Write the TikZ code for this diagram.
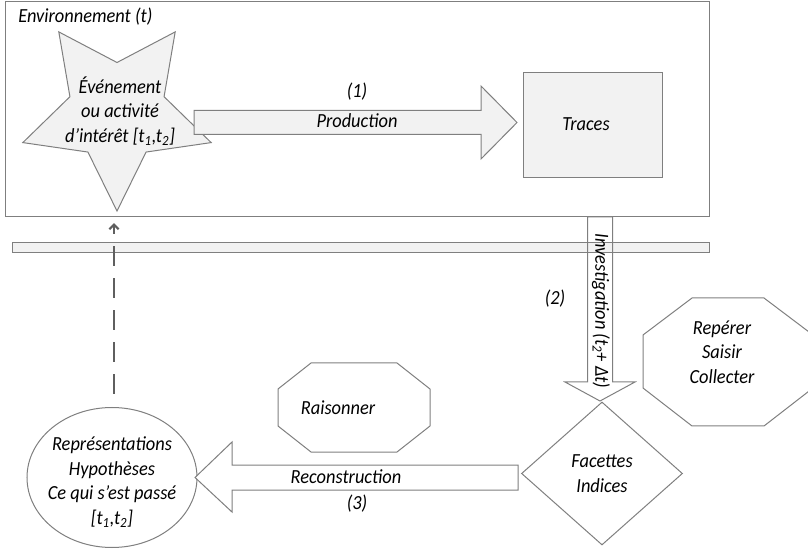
\documentclass[tikz,border=0pt]{standalone}
\usepackage{fontspec}
\setmainfont{Carlito}[FakeStretch=0.92]
\usepackage{tikz}
\usetikzlibrary{shapes.geometric,arrows.meta,calc}
\definecolor{linegray}{HTML}{7F7F7F}
\definecolor{fillgray}{HTML}{F2F2F2}
\definecolor{dashgray}{HTML}{5F5F5F}

\begin{document}
\begin{tikzpicture}[x=0.75pt,y=-0.75pt,
font=\fontsize{15}{18.5}\selectfont\itshape,
every node/.style={align=center},
outline/.style={draw=linegray,line width=0.75pt,line join=miter},
dasharrow/.style={draw=dashgray,line width=1.6pt,dash pattern=on 15pt off 9pt,
  -{Straight Barb[length=3.5pt,width=7pt]}}]
\useasboundingbox (0,0) rectangle (808,549);

% environnement
\node[outline,minimum width=528pt,minimum height=161.25pt] (env) at (357,109.5) {};
\node[anchor=base west,inner sep=0] (envlabel) at (18,23) {Environnement (t)};
\node[outline,fill=fillgray,star,star points=5,star point ratio=2,
  shape border rotate=180,minimum size=148.5pt,inner sep=0] (evt) at (117,112) {};
\node (evttxt) at (120,111) {Événement\\ou activité\\d’intérêt [t\textsubscript{1},t\textsubscript{2}]};
\node[outline,fill=fillgray,minimum width=104.25pt,minimum height=78.75pt] (traces) at (592.5,125.5) {};
\node (tracestxt) at (586,124) {Traces};

% (1) production
\coordinate (prodtip) at (517,122.5);
\draw[outline,fill=fillgray] (prodtip) -- ++(-36,36.5) -- ++(0,-24.5) -- ++(-287,0)
  -- ++(0,-24) -- ++(287,0) -- ++(0,-24.5) -- cycle;
\node (one) at (357,92) {(1)};
\node (prodlabel) at (357,121) {Production};

\node[outline,fill=fillgray,minimum width=522.75pt,minimum height=7.5pt,inner sep=0] (bar) at (360.5,248) {};

% (2) investigation
\coordinate (invtip) at (600,401);
\draw[outline] (invtip) -- ++(-35,-19) -- ++(22.5,0) -- ++(0,-165) -- ++(25,0)
  -- ++(0,165) -- ++(22.5,0) -- cycle;
\node[rotate=-90] (invlabel) at (601,311) {Investigation (t\textsubscript{2}+ Δt)};
\node (two) at (555,299) {(2)};

\node[outline,diamond,minimum width=120.75pt,minimum height=107.25pt,inner sep=0] (fac) at (602,473.5) {Facettes\\Indices};

\node (col) at (722,352) {Repérer\\Saisir\\Collecter};
\draw[outline] ($(col)+(-79,-17)$) -- ++(49,-37) -- ++(72,0) -- ++(49,37) -- ++(0,53)
  -- ++(-49,38) -- ++(-72,0) -- ++(-49,-38) -- cycle;

\node (rais) at (338,408) {Raisonner};
\draw[outline] ($(rais)+(-60,-19)$) -- ++(33,-26) -- ++(86,0) -- ++(33,26) -- ++(0,37)
  -- ++(-33,26) -- ++(-86,0) -- ++(-33,-26) -- cycle;

% (3) reconstruction
\node[outline,ellipse,minimum width=127.5pt,minimum height=105pt,inner sep=0] (rep) at (112,477.5) {};
\node (reptxt) at (112,482) {Représentations\\Hypothèses\\Ce qui s’est passé\\{}[t\textsubscript{1},t\textsubscript{2}]};
\coordinate (rectip) at (195,477.5);
\draw[outline,fill=white] (rectip) -- ++(37,-35.5) -- ++(0,23) -- ++(286,0) -- ++(0,25)
  -- ++(-286,0) -- ++(0,22) -- cycle;
\node (reclabel) at (346,477) {Reconstruction};
\node (three) at (357,504) {(3)};

\coordinate (hyptop) at ($(rep.north)+(2,-13)$);
\draw[dasharrow,shorten >=8.25pt] (hyptop) -- (hyptop |- evt.south);
\end{tikzpicture}
\end{document}
